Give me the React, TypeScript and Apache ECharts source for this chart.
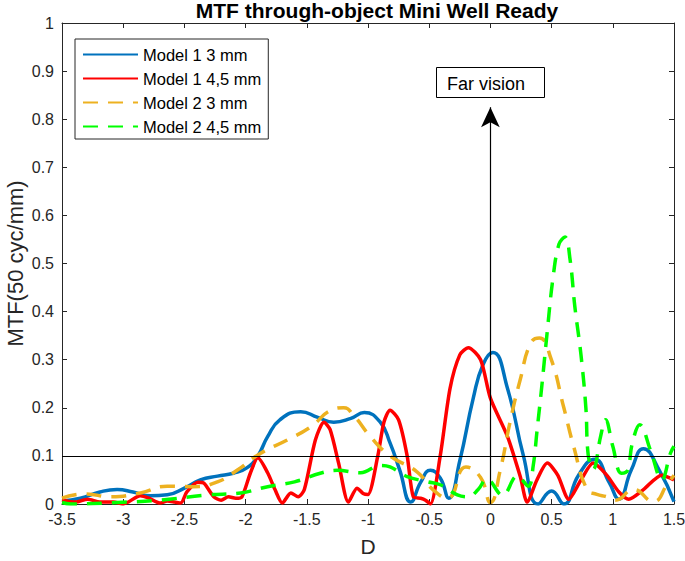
import React, { useEffect, useRef } from "react";
import * as echarts from "echarts";

const TITLE = "MTF through-object Mini Well Ready";
const X_NAME = "D";
const Y_NAME = "MTF(50 cyc/mm)";
const X_RANGE = [-3.5, 1.5];
const Y_RANGE = [0, 1];
const SERIES_NAMES = ["Model 1 3 mm", "Model 1 4,5 mm", "Model 2 3 mm", "Model 2 4,5 mm"];

const xBlue = [-3.5, -3.35, -3.19, -3.05, -2.92, -2.78, -2.64, -2.5, -2.37, -2.23, -2.1, -1.99, -1.9, -1.82, -1.72, -1.55, -1.41, -1.28, -1.14, -1.03, -0.9, -0.82, -0.74, -0.65, -0.57, -0.49, -0.41, -0.34, -0.25, -0.14, -0.06, 0.02, 0.14, 0.27, 0.39, 0.5, 0.6, 0.72, 0.85, 0.97, 1.05, 1.15, 1.25, 1.38, 1.5];
const yBlue = [0.006, 0.012, 0.025, 0.03, 0.025, 0.017, 0.019, 0.033, 0.05, 0.058, 0.064, 0.075, 0.1, 0.14, 0.175, 0.192, 0.18, 0.17, 0.178, 0.19, 0.17, 0.127, 0.07, 0.004, 0.045, 0.07, 0.054, 0.012, 0.09, 0.22, 0.29, 0.315, 0.24, 0.1, 0.0, 0.027, 0.0, 0.06, 0.093, 0.045, 0.01, 0.07, 0.115, 0.07, 0.005];

const xRed = [-3.5, -3.39, -3.29, -3.19, -3.08, -3.0, -2.86, -2.79, -2.7, -2.64, -2.58, -2.53, -2.48, -2.39, -2.34, -2.26, -2.2, -2.14, -2.08, -2.03, -1.96, -1.9, -1.82, -1.76, -1.7, -1.63, -1.57, -1.52, -1.43, -1.36, -1.31, -1.24, -1.16, -1.09, -1.04, -1.0, -0.92, -0.87, -0.82, -0.75, -0.68, -0.63, -0.57, -0.53, -0.49, -0.41, -0.33, -0.25, -0.18, -0.08, 0.0, 0.14, 0.245, 0.3, 0.38, 0.465, 0.55, 0.64, 0.74, 0.84, 0.95, 1.05, 1.13, 1.25, 1.4, 1.5];
const yRed = [0.008, 0.004, 0.01, 0.004, 0.004, 0.0, 0.017, 0.012, 0.002, 0.006, 0.004, 0.002, 0.025, 0.045, 0.043, 0.015, 0.008, 0.015, 0.012, 0.015, 0.065, 0.096, 0.065, 0.03, 0.002, 0.023, 0.015, 0.03, 0.133, 0.17, 0.155, 0.085, 0.004, 0.033, 0.022, 0.02, 0.1, 0.17, 0.195, 0.175, 0.1, 0.015, 0.012, 0.008, 0.0, 0.1, 0.24, 0.31, 0.325, 0.3, 0.22, 0.14, 0.056, 0.004, 0.05, 0.085, 0.06, 0.01, 0.05, 0.085, 0.06, 0.025, 0.01, 0.03, 0.06, 0.05];

const xOrange = [-3.5, -3.31, -3.1, -2.86, -2.64, -2.43, -2.23, -2.07, -1.88, -1.66, -1.47, -1.3, -1.2, -1.12, -0.98, -0.82, -0.6, -0.47, -0.35, -0.2, -0.08, 0.0, 0.08, 0.16, 0.245, 0.33, 0.4, 0.49, 0.6, 0.68, 0.79, 0.87, 0.95, 1.02, 1.17, 1.33, 1.45, 1.5];
const yOrange = [0.012, 0.021, 0.015, 0.023, 0.037, 0.036, 0.046, 0.07, 0.105, 0.133, 0.16, 0.195, 0.2, 0.185, 0.14, 0.1, 0.067, 0.03, 0.012, 0.077, 0.055, 0.003, 0.07, 0.17, 0.26, 0.335, 0.345, 0.306, 0.2, 0.12, 0.03, 0.02, 0.015, 0.008, 0.03, 0.005, 0.043, 0.06];

const xGreen = [-3.5, -3.43, -2.97, -2.7, -2.31, -2.04, -1.82, -1.6, -1.39, -1.25, -1.06, -0.9, -0.82, -0.68, -0.51, -0.41, -0.27, -0.18, -0.1, -0.03, 0.1, 0.22, 0.31, 0.35, 0.38, 0.42, 0.465, 0.51, 0.56, 0.61, 0.65, 0.69, 0.74, 0.78, 0.8, 0.84, 0.9, 0.94, 1.0, 1.07, 1.12, 1.16, 1.22, 1.31, 1.4, 1.47, 1.5];
const yGreen = [0.003, 0.0, 0.004, 0.008, 0.019, 0.023, 0.036, 0.046, 0.064, 0.07, 0.065, 0.08, 0.077, 0.057, 0.046, 0.04, 0.019, 0.015, 0.03, 0.052, 0.018, 0.058, 0.037, 0.08, 0.15, 0.245, 0.36, 0.467, 0.54, 0.555, 0.51, 0.41, 0.31, 0.2, 0.1, 0.072, 0.14, 0.175, 0.12, 0.064, 0.07, 0.127, 0.165, 0.11, 0.05, 0.105, 0.12];

const REF_LEVEL = 0.1;
const ARROW_X = 0;
const ARROW_TOP = 0.825;
const ANNOTATION = "Far vision";

const pair = (xs: number[], ys: number[]) => xs.map((x, i) => [x, ys[i]]);

const FONT = "Liberation Sans, Arial, Helvetica, sans-serif";
const AX = "#262626";

export default function App() {
  const ref = useRef<HTMLDivElement>(null);
  useEffect(() => {
    if (!ref.current) return;
    const chart = echarts.init(ref.current, undefined, { renderer: "svg" });
    const axisCommon = {
      type: "value" as const,
      axisLine: { show: true, onZero: false, lineStyle: { color: AX, width: 1 } },
      axisTick: { show: true, inside: true, length: 5, lineStyle: { color: AX } },
      splitLine: { show: false },
    };
    const lineSeries = (name: string, data: number[][], color: string, dashed: boolean, smooth: number) => ({
      name,
      type: "line",
      data,
      smooth,
      symbol: "none",
      showSymbol: false,
      clip: true,
      lineStyle: {
        color,
        width: 3.5,
        type: dashed ? [15, 10] : "solid",
        cap: "butt",
      },
      itemStyle: { color },
    });
    chart.setOption({
      animation: false,
      backgroundColor: "#ffffff",
      textStyle: { fontFamily: FONT },
      title: {
        text: TITLE,
        left: 372,
        top: -5,
        textAlign: "center",
        textStyle: { fontFamily: FONT, fontSize: 21, fontWeight: "bold", color: "#000" },
      },
      grid: { left: 62, right: 11, top: 23, bottom: 57, containLabel: false, outerBoundsMode: "none" },
      legend: {
        orient: "vertical",
        left: 75,
        top: 39,
        data: SERIES_NAMES,
        itemWidth: 55,
        itemHeight: 16,
        itemGap: 7,
        padding: [7, 7, 4, 7],
        borderColor: AX,
        borderWidth: 1,
        backgroundColor: "#fff",
        itemStyle: { opacity: 0 },
        textStyle: { fontFamily: FONT, fontSize: 16.5, color: "#000" },
      },
      xAxis: [
        {
          ...axisCommon,
          position: "bottom",
          min: X_RANGE[0],
          max: X_RANGE[1],
          interval: 0.5,
          name: X_NAME,
          nameLocation: "middle",
          nameGap: 32,
          nameMoveOverlap: false,
          nameTextStyle: { fontFamily: FONT, fontSize: 21, color: AX },
          axisLabel: { fontFamily: FONT, fontSize: 16, color: AX, margin: 7 },
        },
        {
          ...axisCommon,
          position: "top",
          min: X_RANGE[0],
          max: X_RANGE[1],
          interval: 0.5,
          axisLabel: { show: false },
        },
      ],
      yAxis: [
        {
          ...axisCommon,
          position: "left",
          min: Y_RANGE[0],
          max: Y_RANGE[1],
          interval: 0.1,
          name: Y_NAME,
          nameLocation: "middle",
          nameGap: 36,
          nameMoveOverlap: false,
          nameTextStyle: { fontFamily: FONT, fontSize: 22, color: AX },
          axisLabel: { fontFamily: FONT, fontSize: 16, color: AX, margin: 8 },
        },
        {
          ...axisCommon,
          position: "right",
          min: Y_RANGE[0],
          max: Y_RANGE[1],
          interval: 0.1,
          axisLabel: { show: false },
        },
      ],
      series: [
        {
          name: "ref",
          type: "line",
          data: [],
          symbol: "none",
          z: 1,
          markLine: {
            silent: true,
            animation: false,
            label: { show: false },
            data: [
              [
                { coord: [X_RANGE[0], REF_LEVEL], symbol: "none" },
                { coord: [X_RANGE[1], REF_LEVEL], symbol: "none" },
              ],
            ],
            lineStyle: { color: "#000", width: 1.2, type: "solid" },
          },
        },
        lineSeries(SERIES_NAMES[0], pair(xBlue, yBlue), "#0072BD", false, 0.5),
        lineSeries(SERIES_NAMES[1], pair(xRed, yRed), "#FF0000", false, 0.25),
        lineSeries(SERIES_NAMES[2], pair(xOrange, yOrange), "#EDB120", true, 0.5),
        lineSeries(SERIES_NAMES[3], pair(xGreen, yGreen), "#00FF00", true, 0.4),
        {
          name: "arrow",
          type: "line",
          data: [],
          symbol: "none",
          z: 10,
          markLine: {
            silent: true,
            animation: false,
            label: { show: false },
            symbol: ["none", "arrow"],
            symbolSize: [14, 20],
            data: [
              [
                { coord: [ARROW_X, 0] },
                { coord: [ARROW_X, ARROW_TOP] },
              ],
            ],
            lineStyle: { color: "#000", width: 1.2, type: "solid" },
            itemStyle: { color: "#000" },
          },
        },
      ],
      graphic: [
        {
          type: "rect",
          shape: { x: 436.5, y: 67.5, width: 108, height: 30 },
          style: { fill: "#fff", stroke: "#000", lineWidth: 1 },
          z: 100,
        },
        {
          type: "text",
          x: 447,
          y: 84,
          style: {
            text: ANNOTATION,
            fill: "#000",
            font: `18px ${FONT}`,
            verticalAlign: "middle",
          },
          z: 101,
        },
      ],
    });
    return () => chart.dispose();
  }, []);
  return (
    <div
      ref={ref}
      style={{ position: "fixed", left: 0, top: 0, width: 685, height: 561 }}
    />
  );
}
